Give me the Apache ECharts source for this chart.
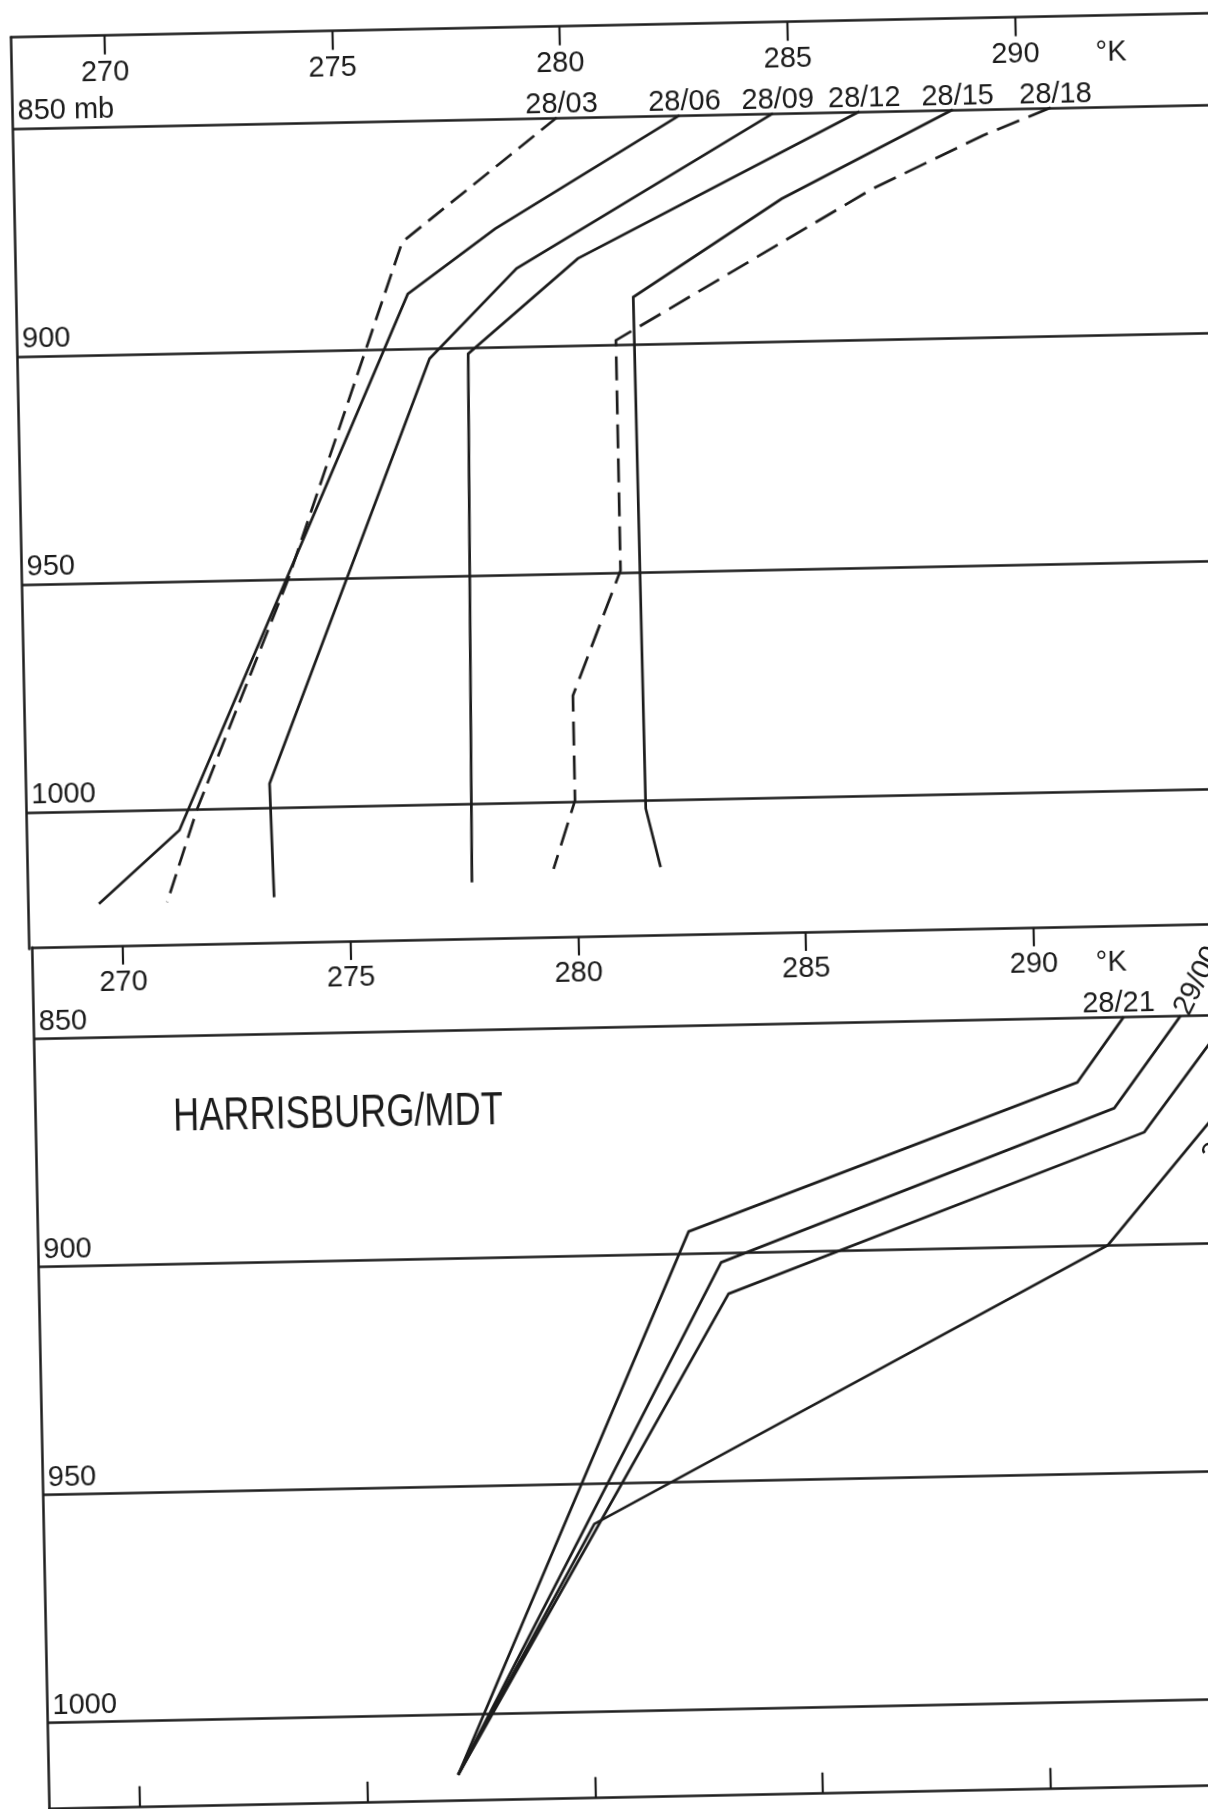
<!DOCTYPE html>
<html>
<head>
<meta charset="utf-8">
<title>HARRISBURG/MDT</title>
<script src="https://cdn.jsdelivr.net/npm/echarts@6/dist/echarts.min.js"></script>
<style>
  html, body { margin: 0; padding: 0; width: 1208px; height: 1809px; overflow: hidden; background: #ffffff; }
  /* the sheet sits slightly askew on the page */
  #chart { position: absolute; left: -146px; top: -95.5px; width: 1500px; height: 2000px;
           transform: rotate(-1.146deg); transform-origin: 50% 50%; }
</style>
</head>
<body>
<div id="chart"></div>
<script>
// Pressure levels (mb) ruled across both panels
const pressureLevels = [850, 900, 950, 1000];
// Temperature scale ticks (K)
const tempTicks = [270, 275, 280, 285, 290];

// Upper panel: soundings of the 28th, temperature (K) against pressure (mb)
const t2803 = [279.9, 276.45, 273.8, 271.7, 271.0];
const p2803 = [850, 876.6, 950, 1000, 1020.3];
const t2806 = [282.6, 278.5, 276.55, 271.3, 269.5];
const p2806 = [850, 874.1, 888, 1004.6, 1020.4];
const t2809 = [284.65, 278.95, 277.0, 273.3, 273.35];
const p2809 = [850, 882.9, 902.3, 994.8, 1019.7];
const t2812 = [286.55, 280.3, 277.85, 277.7];
const p2812 = [850, 881, 901.4, 1017.3];
const t2815 = [288.6, 284.8, 281.5, 281.55, 281.85];
const p2815 = [850, 868.8, 889.7, 1001.9, 1014.8];
const t2818 = [290.75, 289.25, 286.8, 281.1, 281.1, 280.0, 280.0, 279.5];
const p2818 = [850, 855.8, 867, 899.1, 949.6, 976.8, 999.8, 1014.7];

// Lower panel: evening and night soundings
const t2821 = [291.95, 290.9, 282.3, 277.0];
const p2821 = [850, 864.2, 895.2, 1013.3];
const t2900 = [293.2, 291.7, 283.0, 277.0];
const p2900 = [850, 870, 902.1, 1013.3];
const t2903 = [294.3, 292.35, 283.15, 277.0];
const p2903 = [850, 875.4, 909, 1013.3];
const t2906 = [295.8, 291.5, 280.1, 277.0];
const p2906 = [850, 900, 958.9, 1013.3];

const stationName = 'HARRISBURG/MDT';
const unitLabel = '°K';

// ---- styling ----
const INK = '#1c1c1c';
const FONT = "'Liberation Sans', Arimo, Roboto, sans-serif";
const TXT = { color: INK, fontFamily: FONT, fontSize: 29 };
const UNIT_AT = [292.1, 291.7];   // where the unit sits along each temperature scale
const T_MAX = 297;
const RULE_W = 2.5;
const CURVE_W = 2.7;

function topAxis(gridIndex, min) {
  const unitAt = UNIT_AT[gridIndex];
  return {
    type: 'value', gridIndex, position: 'top', min, max: T_MAX,
    axisLine: { show: true, onZero: false, lineStyle: { color: INK, width: RULE_W } },
    axisTick: { show: true, inside: true, length: 19, customValues: tempTicks,
                lineStyle: { color: INK, width: 2.2 } },
    axisLabel: Object.assign({ show: true, inside: true, margin: 23,
                customValues: tempTicks.concat([unitAt]),
                formatter: v => (Math.abs(v - unitAt) < 1e-6 ? unitLabel : String(v)) }, TXT),
    splitLine: { show: false }
  };
}

function pressureAxis(gridIndex, max) {
  return {
    type: 'value', gridIndex, inverse: true, min: 830, max,
    axisLine: { show: true, onZero: false, lineStyle: { color: INK, width: RULE_W } },
    axisTick: { show: false }, axisLabel: { show: false }, splitLine: { show: false }
  };
}

function sounding(name, ts, ps, panel, lineType, labelOpt) {
  const data = ts.map((t, i) => {
    const item = { value: [t, ps[i]] };
    if (i === 0) item.label = Object.assign({ show: true, formatter: name }, TXT, labelOpt);
    return item;
  });
  return {
    type: 'line', name, data,
    xAxisIndex: panel, yAxisIndex: panel,
    symbol: 'circle', symbolSize: 1, showSymbol: true, showAllSymbol: true,
    itemStyle: { color: 'rgba(0,0,0,0)' },
    label: { show: false },
    lineStyle: { color: INK, width: CURVE_W, type: lineType, cap: 'butt', join: 'miter' },
    emphasis: { disabled: true },
    silent: true, clip: false, z: 3
  };
}

function withLevels(series, firstSuffix) {
  series.markLine = {
    silent: true, animation: false, symbol: ['none', 'none'],
    lineStyle: { color: INK, width: RULE_W, type: 'solid' },
    label: Object.assign({ show: true, position: 'insideStartTop', distance: [5, 2] }, TXT),
    emphasis: { disabled: true },
    data: pressureLevels.map((p, i) => ({
      yAxis: p,
      label: { formatter: i === 0 ? String(p) + firstSuffix : String(p) }
    }))
  };
  return series;
}

const labelUp = { position: 'top', distance: -2, offset: [5, 0] };
const labelSlant = { position: 'top', distance: 0, rotate: 62.5, align: 'left',
                     verticalAlign: 'middle', offset: [2, 0] };
// the last sounding is lettered lower down, alongside its own curve
const labelAlong = { position: 'top', distance: 0, rotate: 49, align: 'left',
                     verticalAlign: 'middle', offset: [-171, 24] };

const series = [
  withLevels(sounding('28/03', t2803, p2803, 0, [20, 9], labelUp), ' mb'),
  sounding('28/06', t2806, p2806, 0, 'solid', labelUp),
  sounding('28/09', t2809, p2809, 0, 'solid', labelUp),
  sounding('28/12', t2812, p2812, 0, 'solid', labelUp),
  sounding('28/15', t2815, p2815, 0, 'solid', labelUp),
  sounding('28/18', t2818, p2818, 0, [24, 10], labelUp),
  withLevels(sounding('28/21', t2821, p2821, 1, 'solid', { position: 'top', distance: -2, offset: [-5, 0] }), ''),
  sounding('29/00', t2900, p2900, 1, 'solid', labelSlant),
  sounding('29/03', t2903, p2903, 1, 'solid', labelSlant),
  sounding('29/06', t2906, p2906, 1, 'solid', labelAlong)
];

const chart = echarts.init(document.getElementById('chart'), null, { renderer: 'canvas' });
chart.setOption({
  animation: false,
  backgroundColor: '#ffffff',
  grid: [
    { left: 174.5, top: 120.6, width: 1322.6, height: 912 },
    { left: 177.5, top: 1030.9, width: 1319.9, height: 861.8 }
  ],
  xAxis: [
    topAxis(0, 267.95),
    topAxis(1, 268.01),
    {
      type: 'value', gridIndex: 1, position: 'bottom', min: 268.01, max: T_MAX,
      axisLine: { show: true, onZero: false, lineStyle: { color: INK, width: RULE_W } },
      axisTick: { show: true, inside: true, length: 21, customValues: tempTicks,
                  lineStyle: { color: INK, width: 2.2 } },
      axisLabel: { show: false }, splitLine: { show: false }
    }
  ],
  yAxis: [pressureAxis(0, 1030), pressureAxis(1, 1019)],
  graphic: [{
    type: 'text', x: 315, y: 1204, scaleX: 0.77, silent: true,
    style: { text: stationName, fill: INK, fontFamily: FONT, fontSize: 47, verticalAlign: 'middle' }
  }],
  series
});
</script>
</body>
</html>
